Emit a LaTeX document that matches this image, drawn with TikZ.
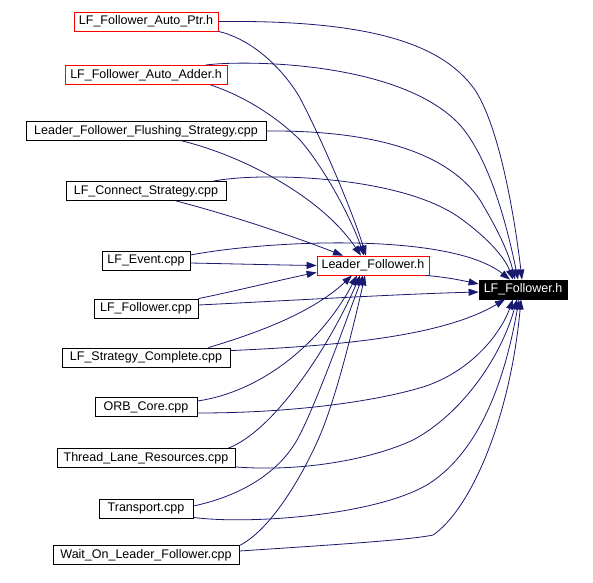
\documentclass[tikz,border=0pt]{standalone}
\usepackage{fontspec}
\setmainfont{Liberation Sans}
\usetikzlibrary{arrows.meta,calc}
\definecolor{edgeblue}{HTML}{191970}
\begin{document}
\begin{tikzpicture}[x=1pt,y=-1pt,
  box/.style={draw=black,line width=0.8pt,inner sep=0pt,minimum height=19pt,font=\fontsize{12.5}{14}\selectfont,fill=white},
  redbox/.style={box,draw=red},
  mainbox/.style={box,fill=black,text=white},
  dep/.style={draw=edgeblue,line width=0.8pt,-{Triangle[length=10pt,width=7pt]}}]
\useasboundingbox[fill=white] (0,0) rectangle (593,582);
% nodes
\node[redbox,minimum width=144pt] (ptr) at (146,21.5) {LF\_Follower\_Auto\_Ptr.h};
\node[redbox,minimum width=162pt] (adder) at (146,75) {LF\_Follower\_Auto\_Adder.h};
\node[box,minimum width=240pt] (flush) at (146,131) {Leader\_Follower\_Flushing\_Strategy.cpp};
\node[box,minimum width=160pt] (conn) at (146,191) {LF\_Connect\_Strategy.cpp};
\node[box,minimum width=88pt] (event) at (146,260.5) {LF\_Event.cpp};
\node[box,minimum width=104pt] (fol) at (146,308.5) {LF\_Follower.cpp};
\node[box,minimum width=168pt] (strat) at (146,357.5) {LF\_Strategy\_Complete.cpp};
\node[box,minimum width=102pt] (orb) at (146,407) {ORB\_Core.cpp};
\node[box,minimum width=178pt] (thread) at (146,458) {Thread\_Lane\_Resources.cpp};
\node[box,minimum width=94pt] (trans) at (146,508.5) {Transport.cpp};
\node[box,minimum width=186pt] (wait) at (146,555) {Wait\_On\_Leader\_Follower.cpp};
\node[redbox,minimum width=112pt] (lfh) at (373,265.5) {Leader\_Follower.h};
\node[mainbox,minimum width=88pt] (lff) at (523,289.5) {LF\_Follower.h};
% edges to Leader_Follower.h
\draw[dep] (ptr.south east) .. controls (255,40) and (285,72) .. (300,98) .. controls (322,140) and (352,210) .. ($(lfh.north)+(-7,0)$);
\draw[dep] ($(adder.south east)+(-17,0)$) .. controls (250,98) and (282,122) .. (300,140) .. controls (322,165) and (350,215) .. ($(lfh.north)+(-9,0)$);
\draw[dep] ($(flush.south)+(36,0)$) .. controls (240,155) and (320,195) .. ($(lfh.north)+(-12,0)$);
\draw[dep] ($(conn.south)+(30,0)$) .. controls (230,215) and (290,235) .. ($(lfh.north)+(-30,0)$);
\draw[dep] ($(event.east)+(0,2.5)$) .. controls (240,264) and (280,265) .. (lfh.west);
\draw[dep] (fol.north east) .. controls (240,290) and (280,280) .. ($(lfh.south west)+(0,-3)$);
\draw[dep] ($(strat.north east)+(-22,0)$) .. controls (250,335) and (310,315) .. ($(lfh.south)+(-21,0)$);
\draw[dep] ($(orb.east)+(0,-6)$) .. controls (260,392) and (320,345) .. ($(lfh.south)+(-16,0)$);
\draw[dep] ($(thread.north east)+(-7,0)$) .. controls (275,430) and (330,345) .. ($(lfh.south)+(-13,0)$);
\draw[dep] ($(trans.east)+(0,-2.5)$) .. controls (245,495) and (280,470) .. (297,440) .. controls (315,408) and (350,310) .. ($(lfh.south)+(-10,0)$);
\draw[dep] ($(wait.north east)+(0,0.5)$) .. controls (270,530) and (300,480) .. (318,440) .. controls (336,400) and (355,320) .. ($(lfh.south)+(-8,0)$);
% edges to LF_Follower.h
\draw[dep] (ptr.east) .. controls (360,20) and (440,40) .. (475,90) .. controls (500,128) and (515,220) .. ($(lff.north)+(-1,0)$);
\draw[dep] ($(adder.north east)+(-22,0)$) .. controls (240,60) and (400,60) .. (460,125) .. controls (488,157) and (506,220) .. ($(lff.north)+(-5,0)$);
\draw[dep] (flush.east) .. controls (380,130) and (450,155) .. (480,200) .. controls (495,225) and (508,250) .. ($(lff.north)+(-8,0)$);
\draw[dep] ($(conn.north east)+(-13,0)$) .. controls (260,172) and (400,175) .. (460,218) .. controls (488,238) and (505,258) .. ($(lff.north)+(-10,0)$);
\draw[dep] ($(event.east)+(0,-5.5)$) .. controls (270,240) and (450,232) .. ($(lff.north)+(-13,0)$);
\draw[dep] ($(fol.east)+(0,-3.5)$) .. controls (300,300) and (400,294) .. ($(lff.west)+(0,2.5)$);
\draw[dep] ($(strat.north east)+(0,3)$) .. controls (330,346) and (440,338) .. ($(lff.south)+(-18,0)$);
\draw[dep] ($(orb.east)+(0,6)$) .. controls (300,413) and (380,400) .. (423,387) .. controls (470,372) and (500,335) .. ($(lff.south)+(-10,0)$);
\draw[dep] ($(thread.south east)+(0,-1)$) .. controls (300,472) and (370,460) .. (413,440) .. controls (460,415) and (500,360) .. ($(lff.south)+(-6,0)$);
\draw[dep] ($(trans.south east)+(0,-1)$) .. controls (250,525) and (380,515) .. (430,483) .. controls (480,450) and (505,380) .. ($(lff.south)+(-4,0)$);
\draw[dep] ($(wait.east)+(0,-4)$) .. controls (330,545) and (410,540) .. (433,535) .. controls (470,510) and (510,420) .. ($(lff.south)+(-2,0)$);
\draw[dep] ($(lfh.south east)+(-4,0)$) .. controls (445,277) and (460,280) .. ($(lff.west)+(0,-5.5)$);
\end{tikzpicture}
\end{document}
